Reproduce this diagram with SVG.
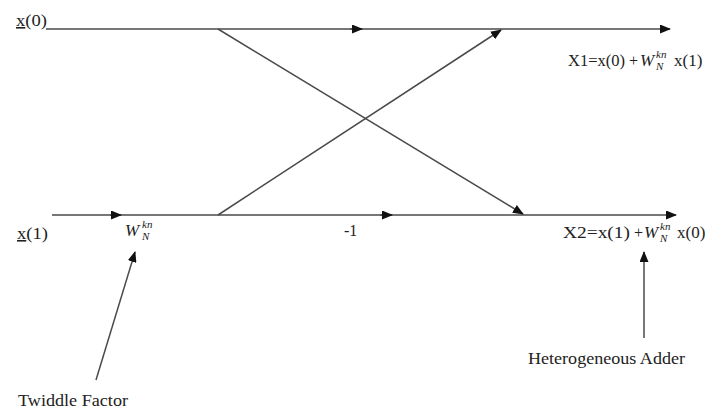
<svg xmlns="http://www.w3.org/2000/svg" width="725" height="413" viewBox="0 0 725 413">
<style>
.ln{stroke:#4a4a4a;stroke-width:1.5;fill:none}
.ar{marker-end:url(#ah)}
text{font-family:"Liberation Serif","Times New Roman",serif;fill:#222;font-size:16px}
.it{font-style:italic}
.sm{font-size:11px}
.f{font-size:17px}
</style>
<defs>
<marker id="ah" markerUnits="userSpaceOnUse" markerWidth="11" markerHeight="9" refX="10" refY="4.5" orient="auto">
<path d="M0,0 L11,4.5 L0,9 Z" fill="#111"/>
</marker>
</defs>
<rect width="725" height="413" fill="#fff"/>
<g id="connectors">
<path class="ln ar" d="M46,29 L670,29"/>
<path class="ln ar" d="M350,29 L362,29"/>
<path class="ln ar" d="M52,215 L676,215"/>
<path class="ln ar" d="M110,215 L121,215"/>
<path class="ln ar" d="M380,215 L392,215"/>
<path class="ln ar" d="M218,29 L523,214"/>
<path class="ln ar" d="M218,215 L501,30"/>
<path class="ln ar" d="M96,380 L135,252"/>
<path class="ln ar" d="M644,338 L644,252"/>
</g>
<g id="x0"><text x="16" y="26" textLength="31" lengthAdjust="spacingAndGlyphs"><tspan text-decoration="underline">x</tspan>(0)</text></g>
<g id="x1"><text x="17" y="239" textLength="31" lengthAdjust="spacingAndGlyphs"><tspan text-decoration="underline">x</tspan>(1)</text></g>
<g id="twiddle-label">
<text x="125" y="236" class="it f">W</text>
<text x="142" y="228" class="it sm">kn</text>
<text x="142" y="240" class="it sm">N</text>
</g>
<g id="minus1"><text x="344" y="236">-1</text></g>
<g id="X1">
<text x="568" y="66" textLength="57" lengthAdjust="spacingAndGlyphs">X1=x(0)</text>
<text x="629" y="66">+</text>
<text x="640" y="66" class="it f">W</text>
<text x="656" y="58" class="it sm">kn</text>
<text x="656" y="70" class="it sm">N</text>
<text x="674" y="66" class="f">x(1)</text>
</g>
<g id="X2">
<text x="563" y="238" textLength="67" lengthAdjust="spacingAndGlyphs">X2=x(1)</text>
<text x="634" y="238">+</text>
<text x="644" y="238" class="it f">W</text>
<text x="660" y="230" class="it sm">kn</text>
<text x="660" y="242" class="it sm">N</text>
<text x="677" y="238" class="f">x(0)</text>
</g>
<g id="twiddle-factor"><text x="18" y="406" textLength="110" lengthAdjust="spacingAndGlyphs">Twiddle Factor</text></g>
<g id="adder"><text x="528" y="364" textLength="157" lengthAdjust="spacingAndGlyphs">Heterogeneous Adder</text></g>
</svg>
